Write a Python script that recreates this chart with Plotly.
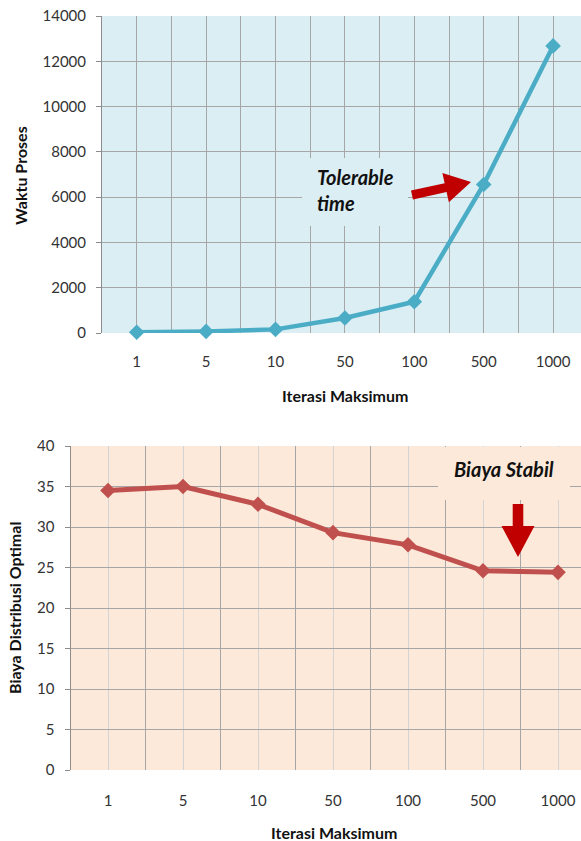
import math
import plotly.graph_objects as go

# ---- data ----
categories = ["1", "5", "10", "50", "100", "500", "1000"]
waktu_proses = [30, 70, 160, 660, 1380, 6560, 12680]
biaya_optimal = [34.5, 35.0, 32.8, 29.3, 27.8, 24.6, 24.4]
waktu_ticks = [0, 2000, 4000, 6000, 8000, 10000, 12000, 14000]
biaya_ticks = [0, 5, 10, 15, 20, 25, 30, 35, 40]

W, H = 581, 841
FONT = "Lato"
idx = list(range(len(categories)))

# plot-area boxes in pixels: (left, right, top, bottom)
TOP_BOX = (102, 581, 16, 333)
BOT_BOX = (70.5, 581, 446, 770)
TOP_XR = [-0.5, -0.5 + (TOP_BOX[1] - TOP_BOX[0]) / 69.4]
BOT_XR = [-0.5, -0.5 + (BOT_BOX[1] - BOT_BOX[0]) / 75.0]
TOP_YR = [0, 14000]
BOT_YR = [0, 40]


def dom_x(box):
    return [box[0] / W, box[1] / W]


def dom_y(box):
    return [1 - box[3] / H, 1 - box[2] / H]


def px_to_data(px, py, box, xr, yr):
    x = xr[0] + (px - box[0]) / (box[1] - box[0]) * (xr[1] - xr[0])
    y = yr[1] - (py - box[2]) / (box[3] - box[2]) * (yr[1] - yr[0])
    return x, y


def arrow_path(tail, tip, shaft_hw, head_hw, head_len, box, xr, yr):
    dx, dy = tip[0] - tail[0], tip[1] - tail[1]
    L = math.hypot(dx, dy)
    ux, uy = dx / L, dy / L
    nx, ny = -uy, ux
    local = [
        (0, shaft_hw), (L - head_len, shaft_hw), (L - head_len, head_hw),
        (L, 0), (L - head_len, -head_hw), (L - head_len, -shaft_hw), (0, -shaft_hw),
    ]
    pts = []
    for a, b in local:
        px = tail[0] + a * ux + b * nx
        py = tail[1] + a * uy + b * ny
        pts.append(px_to_data(px, py, box, xr, yr))
    return "M " + " L ".join(f"{x:.4f},{y:.4f}" for x, y in pts) + " Z"


def rect_data(x0, x1, y0, y1, box, xr, yr):
    a = px_to_data(x0, y1, box, xr, yr)
    b = px_to_data(x1, y0, box, xr, yr)
    return a[0], b[0], a[1], b[1]


fig = go.Figure()

fig.add_trace(go.Scatter(
    x=idx, y=waktu_proses, mode="lines+markers",
    line=dict(color="#4BACC6", width=4.5),
    marker=dict(symbol="diamond", size=12, color="#4BACC6"),
    xaxis="x", yaxis="y", showlegend=False, hoverinfo="skip", cliponaxis=False,
))
fig.add_trace(go.Scatter(
    x=idx, y=biaya_optimal, mode="lines+markers",
    line=dict(color="#C0504D", width=5),
    marker=dict(symbol="diamond", size=12, color="#C0504D"),
    xaxis="x2", yaxis="y2", showlegend=False, hoverinfo="skip", cliponaxis=False,
))

half_vals = [i - 0.5 for i in range(len(categories) + 1)]
tick_font = dict(family=FONT, size=15, color="#333333")

common_x = dict(
    tickmode="array", tickvals=idx, ticktext=categories,
    showgrid=True, zeroline=False, ticks="", showline=False,
    tickfont=tick_font, automargin=False,
)
common_y = dict(
    tickmode="array",
    showgrid=True, gridcolor="#A6A6A6", gridwidth=1, zeroline=False,
    showline=True, linecolor="#8C8C8C", linewidth=1,
    ticks="outside", ticklen=5, tickcolor="#8C8C8C",
    tickfont=tick_font, ticklabelstandoff=7, automargin=False,
)

fig.update_layout(
    width=W, height=H, margin=dict(l=0, r=0, t=0, b=0, autoexpand=False),
    paper_bgcolor="white",
    xaxis=dict(domain=dom_x(TOP_BOX), range=TOP_XR, anchor="y",
               gridcolor="#A6A6A6", ticklabelstandoff=18,
               minor=dict(tickvals=half_vals, showgrid=True, gridcolor="#A6A6A6", ticks=""),
               **common_x),
    yaxis=dict(domain=dom_y(TOP_BOX), range=TOP_YR, anchor="x",
               tickvals=waktu_ticks, ticktext=[str(v) for v in waktu_ticks], **common_y),
    xaxis2=dict(domain=dom_x(BOT_BOX), range=BOT_XR, anchor="y2",
                gridcolor="#D4D4D4", ticklabelstandoff=20,
                minor=dict(tickvals=half_vals, showgrid=True, gridcolor="#A6A6A6", ticks=""),
                **common_x),
    yaxis2=dict(domain=dom_y(BOT_BOX), range=BOT_YR, anchor="x2",
                tickvals=biaya_ticks, ticktext=[str(v) for v in biaya_ticks], **common_y),
)

# plot backgrounds
fig.add_shape(type="rect", xref="x domain", yref="y domain", x0=0, x1=1, y0=0, y1=1,
              fillcolor="#DBEEF4", line_width=0, layer="below")
fig.add_shape(type="rect", xref="x2 domain", yref="y2 domain", x0=0, x1=1, y0=0, y1=1,
              fillcolor="#FDE9D9", line_width=0, layer="below")

# text boxes that mask the grid behind the callouts
x0, x1, y0, y1 = rect_data(302, 408, 158, 226, TOP_BOX, TOP_XR, TOP_YR)
fig.add_shape(type="rect", xref="x", yref="y", x0=x0, x1=x1, y0=y0, y1=y1,
              fillcolor="#DBEEF4", line_width=0, layer="between")
x0, x1, y0, y1 = rect_data(438, 570, 447, 500, BOT_BOX, BOT_XR, BOT_YR)
fig.add_shape(type="rect", xref="x2", yref="y2", x0=x0, x1=x1, y0=y0, y1=y1,
              fillcolor="#FDE9D9", line_width=0, layer="between")

# callout arrows
fig.add_shape(type="path", xref="x", yref="y",
              path=arrow_path((412, 195), (471, 182), 4.5, 15, 26, TOP_BOX, TOP_XR, TOP_YR),
              fillcolor="#C00000", line_width=0, layer="above")
fig.add_shape(type="path", xref="x2", yref="y2",
              path=arrow_path((518, 504), (518, 557), 5.3, 16.5, 31, BOT_BOX, BOT_XR, BOT_YR),
              fillcolor="#C00000", line_width=0, layer="above")

callout_font = dict(family=FONT, size=20, color="#111111", weight="bold", style="italic")


def paper_text(text, px, py, font, xanchor="center", angle=0):
    fig.add_annotation(text=text, x=px / W, y=1 - py / H, xref="paper", yref="paper",
                       showarrow=False, xanchor=xanchor, yanchor="middle",
                       font=font, textangle=angle)


paper_text("Tolerable", 315, 177, callout_font, xanchor="left")
paper_text("time", 315, 203, callout_font, xanchor="left")
paper_text("Biaya Stabil", 504, 469, callout_font)

title_font = dict(family=FONT, size=16, color="#111111", weight="bold")
paper_text("Iterasi Maksimum", 345, 395, title_font)
paper_text("Iterasi Maksimum", 334, 832, title_font)
paper_text("Waktu Proses", 20, 175, title_font, angle=-90)
paper_text("Biaya Distribusi Optimal", 14, 608, title_font, angle=-90)

fig.write_html("out.html")
